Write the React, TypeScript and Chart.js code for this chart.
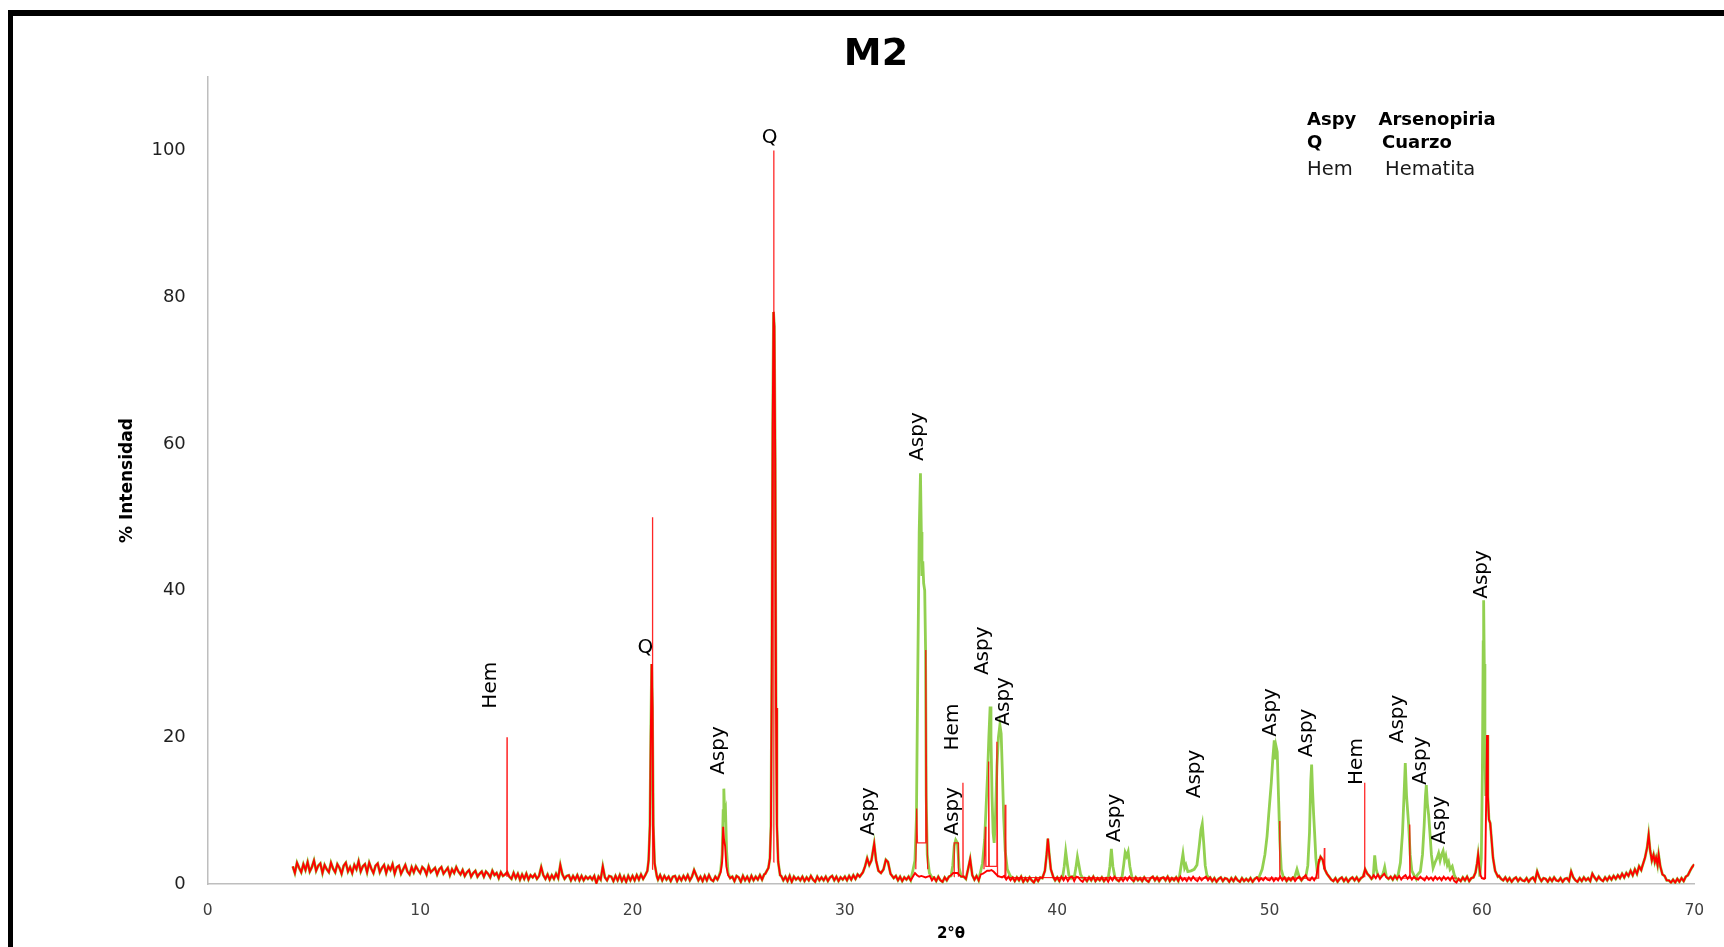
import React, { useEffect, useRef } from "react";
import { Chart, registerables } from "chart.js";

Chart.register(...registerables);

const FONT = "'DejaVu Sans', Verdana, sans-serif";

// ---- axis definition ----
const X_MIN = 0;
const X_MAX = 70;
const X_STEP = 10;
const Y_MIN = 0;
const Y_MAX = 110;
const Y_STEP = 20;

// ---- measured background (2θ from 4.0 to 70.0, one row per degree, 0.1° apart) ----
const GRID_START = 4.0;
const GRID_STEP = 0.1;
const backgroundRows: number[][] = [
  [2.4, 1.5, 2.9, 2.2, 1.6, 2.7, 1.9, 3.0, 1.7, 2.3], // 4
  [3.2, 1.8, 2.5, 2.8, 1.5, 2.6, 2.0, 1.6, 2.9, 2.1], // 5
  [1.6, 2.7, 2.2, 1.4, 2.5, 2.9, 1.7, 2.3, 1.5, 2.6], // 6
  [2.0, 3.1, 1.7, 2.4, 2.7, 1.6, 2.9, 2.1, 1.5, 2.5], // 7
  [2.8, 1.6, 2.2, 2.6, 1.5, 2.4, 1.9, 2.7, 1.4, 2.3], // 8
  [2.5, 1.4, 2.0, 2.6, 1.7, 1.3, 2.3, 1.6, 2.4, 1.9], // 9
  [1.5, 2.3, 2.0, 1.3, 2.4, 1.6, 1.9, 2.2, 1.3, 2.0], // 10
  [2.3, 1.4, 1.8, 2.2, 1.2, 2.0, 1.5, 2.3, 1.7, 1.3], // 11
  [1.9, 1.1, 1.6, 1.9, 1.0, 1.5, 1.8, 1.0, 1.4, 1.7], // 12
  [1.0, 1.7, 1.4, 0.9, 1.8, 1.2, 1.5, 0.8, 1.6, 1.1], // 13
  [1.3, 1.6, 1.0, 0.7, 1.5, 0.8, 1.4, 0.6, 1.3, 0.7], // 14
  [1.4, 0.6, 1.2, 0.9, 1.3, 0.7, 1.1, 2.3, 1.2, 0.7], // 15
  [1.3, 0.6, 1.2, 0.7, 1.4, 0.8, 2.6, 1.3, 0.7, 1.1], // 16
  [1.2, 0.5, 1.1, 0.6, 1.2, 0.5, 1.1, 0.5, 1.0, 0.7], // 17
  [1.0, 0.6, 1.1, 0.1, 1.0, 0.6, 2.4, 0.9, 0.5, 1.1], // 18
  [1.0, 0.4, 1.1, 0.5, 1.2, 0.4, 1.0, 0.3, 1.1, 0.5], // 19
  [1.1, 0.5, 1.2, 0.6, 1.3, 0.7, 1.4, 1.6, 3.3, 3.0], // 20
  [2.0, 1.1, 0.6, 1.2, 0.5, 1.1, 0.6, 1.0, 0.4, 1.0], // 21
  [1.1, 0.4, 1.0, 0.5, 1.1, 0.6, 1.2, 0.5, 1.0, 1.9], // 22
  [1.2, 0.5, 1.0, 0.4, 1.1, 0.5, 1.2, 0.6, 0.4, 1.0], // 23
  [0.6, 1.1, 1.2, 1.5, 1.4, 1.2, 0.9, 1.0, 0.4, 1.1], // 24
  [0.9, 0.3, 1.1, 0.5, 1.0, 0.4, 1.1, 0.5, 1.0, 0.6], // 25
  [1.2, 0.6, 1.3, 1.0, 1.6, 2.0, 2.5, 2.0, 1.4, 1.0], // 26
  [1.1, 0.5, 1.0, 0.4, 1.1, 0.3, 1.0, 0.6, 0.9, 0.5], // 27
  [1.0, 0.4, 0.9, 0.5, 1.1, 0.6, 0.3, 1.0, 0.5, 0.9], // 28
  [0.5, 1.0, 0.4, 0.9, 1.1, 0.5, 1.0, 0.4, 0.9, 0.6], // 29
  [1.0, 0.5, 1.1, 0.6, 1.2, 0.7, 1.3, 0.8, 1.3, 1.0], // 30
  [1.5, 2.8, 1.5, 2.5, 4.0, 2.0, 1.5, 1.4, 1.8, 2.2], // 31
  [2.5, 1.5, 1.0, 0.6, 1.1, 0.5, 1.0, 0.4, 0.9, 0.6], // 32
  [1.0, 0.5, 1.0, 1.5, 1.2, 1.0, 1.1, 1.0, 0.9, 1.0], // 33
  [1.1, 0.5, 0.9, 0.4, 1.0, 0.5, 0.3, 0.9, 0.5, 1.0], // 34
  [1.2, 1.5, 1.5, 1.5, 1.2, 1.0, 1.0, 0.7, 2.0, 3.4], // 35
  [1.2, 0.6, 1.1, 0.5, 1.3, 1.4, 1.6, 1.8, 1.8, 1.9], // 36
  [1.7, 1.4, 1.1, 1.0, 0.9, 1.1, 0.6, 1.0, 0.5, 0.9], // 37
  [0.4, 0.9, 0.5, 1.0, 0.3, 0.8, 0.4, 0.9, 0.5, 0.2], // 38
  [0.8, 0.4, 0.9, 0.5, 1.0, 2.5, 6.2, 2.0, 0.9, 0.5], // 39
  [0.9, 0.4, 1.0, 0.5, 1.0, 0.4, 0.9, 1.0, 0.4, 1.0], // 40
  [0.9, 0.5, 0.3, 0.8, 0.4, 0.9, 0.5, 1.0, 0.4, 0.8], // 41
  [0.5, 0.9, 0.4, 0.8, 0.3, 0.9, 0.5, 1.0, 0.6, 0.4], // 42
  [0.8, 0.4, 0.9, 0.5, 1.0, 0.6, 0.4, 0.9, 0.5, 0.8], // 43
  [0.4, 0.9, 0.5, 0.3, 0.8, 1.0, 0.5, 0.9, 0.4, 0.8], // 44
  [0.9, 0.5, 1.0, 0.4, 0.8, 0.5, 0.9, 0.4, 1.0, 0.5], // 45
  [0.8, 0.4, 0.9, 0.5, 1.0, 0.6, 0.4, 0.9, 0.5, 0.8], // 46
  [1.0, 0.5, 0.9, 0.4, 0.8, 0.3, 0.7, 0.9, 0.4, 0.8], // 47
  [0.7, 0.3, 0.8, 0.4, 0.9, 0.5, 0.3, 0.8, 0.4, 0.7], // 48
  [0.4, 0.8, 0.3, 0.7, 0.9, 0.4, 0.8, 0.5, 0.9, 0.6], // 49
  [0.5, 0.9, 0.4, 0.8, 0.5, 1.0, 0.5, 0.9, 0.4, 0.8], // 50
  [0.5, 0.9, 0.4, 0.8, 1.0, 0.5, 0.9, 1.2, 0.6, 0.5], // 51
  [0.9, 0.5, 1.0, 2.8, 3.7, 3.3, 2.0, 1.4, 1.0, 0.6], // 52
  [0.4, 0.8, 0.3, 0.7, 0.9, 0.4, 0.8, 0.3, 0.7, 0.9], // 53
  [0.5, 0.9, 0.4, 0.8, 1.0, 2.0, 1.4, 1.1, 0.7, 1.2], // 54
  [0.8, 1.3, 0.7, 1.1, 1.4, 0.9, 0.7, 1.0, 0.6, 1.1], // 55
  [0.7, 1.1, 0.6, 1.0, 1.2, 0.7, 1.1, 0.6, 1.0, 0.7], // 56
  [0.6, 1.0, 0.7, 0.5, 1.0, 0.6, 0.9, 0.5, 1.0, 0.6], // 57
  [0.9, 0.5, 1.0, 0.6, 0.9, 0.5, 1.0, 0.4, 0.2, 0.7], // 58
  [0.4, 0.9, 0.5, 1.0, 0.4, 0.8, 0.9, 1.5, 2.5, 1.2], // 59
  [0.8, 0.7, 0.9, 0.8, 0.9, 0.8, 1.5, 1.8, 1.1, 0.7], // 60
  [0.5, 0.9, 0.4, 0.8, 0.3, 0.7, 0.9, 0.4, 0.8, 0.5], // 61
  [0.4, 0.8, 0.3, 0.7, 0.9, 0.4, 1.7, 0.9, 0.4, 0.8], // 62
  [0.7, 0.3, 0.8, 0.4, 0.9, 0.5, 0.4, 0.8, 0.3, 0.7], // 63
  [0.8, 0.4, 1.7, 0.9, 0.5, 0.3, 0.8, 0.4, 0.9, 0.5], // 64
  [0.8, 0.4, 1.4, 0.9, 0.5, 1.0, 0.6, 0.4, 0.9, 0.5], // 65
  [1.0, 0.6, 1.1, 0.7, 1.2, 0.8, 1.4, 0.9, 1.5, 1.1], // 66
  [1.8, 1.2, 2.0, 1.4, 2.4, 1.9, 2.9, 3.5, 6.7, 4.5], // 67
  [3.0, 4.0, 3.0, 4.0, 2.5, 1.6, 1.1, 0.5, 0.5, 0.2], // 68
  [0.6, 0.2, 0.7, 0.3, 0.8, 0.4, 1.0, 1.2, 1.8, 2.3], // 69
];
const backgroundLast = 2.7; // 70.0

// ---- measured peaks that belong to the sample trace (red and green) ----
const quartzPeak21: [number, number][] = [[20.6, 1.2], [20.7, 1.8], [20.76, 3.3], [20.82, 8], [20.86, 20], [20.9, 30], [20.94, 24], [20.98, 8], [21.04, 2.8], [21.15, 1.0]];
const aspySample24: [number, number][] = [[24.05, 0.9], [24.15, 1.6], [24.22, 3.0], [24.27, 7.8], [24.31, 6.0], [24.36, 5.2], [24.42, 2.4], [24.5, 1.2], [24.6, 0.8]];
const quartzPeak27: [number, number][] = [[26.25, 1.4], [26.4, 2.2], [26.47, 3.5], [26.52, 8], [26.56, 30], [26.6, 62], [26.64, 78], [26.68, 76], [26.72, 58], [26.76, 24], [26.8, 8], [26.86, 3], [26.95, 1.2]];
const minorPeaks31: [number, number][] = [[30.7, 1.0], [30.85, 1.6], [30.95, 2.4], [31.05, 3.5], [31.15, 2.6], [31.25, 3.2], [31.38, 5.5], [31.47, 3.2], [31.58, 1.8], [31.7, 1.5], [31.82, 2.0], [31.93, 3.3], [32.03, 3.0], [32.15, 1.4], [32.3, 0.8]];
const hemPeak39: [number, number][] = [[39.3, 0.8], [39.42, 1.8], [39.5, 4.0], [39.56, 6.2], [39.62, 4.2], [39.7, 2.0], [39.82, 0.9]];
const minorPeak59: [number, number][] = [[59.6, 0.9], [59.7, 1.6], [59.77, 2.8], [59.82, 4.0], [59.87, 2.6], [59.93, 1.2]];
const residualPeak60: [number, number][] = [[60.15, 0.8], [60.24, 20.3], [60.28, 12], [60.33, 8.8], [60.39, 8.3], [60.45, 6.2], [60.52, 3.6], [60.62, 1.8], [60.75, 1.0]];
const broadBump68: [number, number][] = [[67.55, 2.4], [67.68, 3.6], [67.78, 5.0], [67.85, 6.7], [67.92, 4.6], [68.0, 3.2], [68.08, 4.0], [68.14, 3.0], [68.2, 3.6], [68.27, 2.6], [68.32, 4.0], [68.4, 2.4], [68.5, 1.3]];

// ---- arsenopyrite (Aspy) peaks, seen in the green trace ----
const aspy24: [number, number][] = [[24.05, 0.9], [24.15, 1.8], [24.22, 4], [24.27, 10], [24.3, 13], [24.34, 9.5], [24.38, 10], [24.43, 4.5], [24.5, 1.5], [24.6, 0.8]];
const aspy33: [number, number][] = [[33.2, 1.8], [33.3, 3.2], [33.37, 9], [33.43, 28], [33.5, 48], [33.56, 56], [33.6, 48], [33.63, 42], [33.67, 44], [33.71, 41], [33.76, 40], [33.8, 32], [33.83, 12], [33.88, 4], [33.98, 1.5], [34.1, 0.9]];
const aspy35: [number, number][] = [[35.0, 1.1], [35.08, 2.5], [35.15, 5.2], [35.22, 6.0], [35.3, 5.6], [35.38, 2.2], [35.48, 1.0]];
const aspy37: [number, number][] = [[36.35, 1.2], [36.48, 2.8], [36.58, 6], [36.65, 10.5], [36.72, 15], [36.78, 20], [36.84, 24.2], [36.88, 20], [36.93, 12], [36.98, 7], [37.03, 5.6], [37.09, 9], [37.16, 16], [37.23, 20], [37.3, 21.7], [37.36, 20.5], [37.42, 15], [37.48, 9], [37.55, 4.5], [37.65, 2], [37.8, 1.0]];
const aspy40: [number, number][] = [[40.25, 0.9], [40.33, 2.4], [40.4, 4.4], [40.47, 2.8], [40.55, 1.2], [40.65, 0.8]];
const aspy41: [number, number][] = [[40.8, 0.9], [40.88, 2.2], [40.95, 3.7], [41.02, 2.6], [41.1, 1.3], [41.2, 0.8]];
const aspy42: [number, number][] = [[42.4, 0.8], [42.48, 2.4], [42.55, 4.8], [42.62, 2.4], [42.72, 0.9]];
const aspy43: [number, number][] = [[43.05, 0.9], [43.13, 2.6], [43.2, 4.3], [43.27, 3.8], [43.34, 4.4], [43.42, 2.4], [43.52, 0.9]];
const aspy46: [number, number][] = [[45.75, 0.9], [45.85, 2.8], [45.92, 4.1], [46.0, 2.2], [46.06, 2.6], [46.15, 1.7], [46.3, 1.8], [46.45, 2.0], [46.58, 2.6], [46.68, 5], [46.77, 7.4], [46.83, 8.2], [46.9, 5.5], [46.97, 2.5], [47.05, 1.2], [47.15, 0.8]];
const aspy50: [number, number][] = [[49.5, 0.9], [49.65, 2], [49.78, 4], [49.88, 6.5], [49.96, 9.5], [50.03, 12], [50.08, 13.8], [50.15, 17], [50.22, 19.6], [50.27, 17], [50.31, 18.7], [50.36, 18], [50.42, 12], [50.48, 6], [50.55, 2], [50.65, 0.9]];
const aspy51: [number, number][] = [[51.18, 0.9], [51.29, 2.0], [51.4, 0.9]];
const aspy52: [number, number][] = [[51.7, 0.9], [51.8, 2.5], [51.88, 7], [51.94, 14], [51.98, 16.3], [52.02, 13], [52.07, 9.7], [52.12, 7], [52.18, 3.5], [52.24, 1.8]];
const aspy55: [number, number][] = [[54.88, 0.9], [54.95, 3.9], [55.02, 2.0], [55.1, 1.2], [55.2, 1.0], [55.3, 1.1], [55.36, 1.6], [55.42, 2.3], [55.5, 1.0]];
const aspy56: [number, number][] = [[56.05, 1.2], [56.16, 2.9], [56.26, 7], [56.33, 12], [56.39, 16.5], [56.45, 12], [56.5, 10], [56.55, 8], [56.62, 4], [56.7, 1.8], [56.8, 1.2]];
const aspy57: [number, number][] = [[56.95, 1.2], [57.1, 1.7], [57.2, 4], [57.28, 8], [57.34, 12], [57.38, 13.5], [57.43, 11], [57.49, 9.4], [57.55, 7], [57.62, 4], [57.7, 2.2], [57.8, 3.0], [57.88, 3.5], [57.96, 4.2], [58.03, 3.2], [58.1, 4.0], [58.17, 4.5], [58.24, 3.2], [58.3, 3.8], [58.37, 2.6], [58.43, 3.0], [58.5, 2.0], [58.6, 2.4], [58.7, 1.2], [58.83, 0.5]];
const aspy60: [number, number][] = [[59.9, 1.0], [59.97, 3.5], [60.02, 15], [60.06, 33], [60.08, 38.7], [60.11, 30], [60.14, 18], [60.18, 12]];

// ---- reference stick pattern (thin red) ----
const stickHem14: [number, number][] = [[14.08, 1.0], [14.09, 20], [14.1, 1.0]];
const stickQ21: [number, number][] = [[20.93, 2], [20.94, 50], [20.95, 2]];
const stickQ27: [number, number][] = [[26.64, 3], [26.65, 100], [26.66, 3]];
const stickAspy33: [number, number][] = [[33.34, 2], [33.38, 10.3], [33.42, 5.6], [33.79, 5.6], [33.81, 31.9], [33.85, 10], [33.9, 2]];
const stickAspy35: [number, number][] = [[35.14, 1], [35.15, 5.6], [35.34, 5.6], [35.35, 1]];
const stickHem35: [number, number][] = [[35.55, 1], [35.56, 13.8], [35.57, 1]];
const stickAspy37: [number, number][] = [[36.55, 2], [36.62, 7.8], [36.64, 2.4], [36.76, 2.4], [36.77, 16.7], [36.8, 2.4], [37.15, 2.4], [37.16, 19.4], [37.19, 1.0], [37.54, 1.0], [37.55, 10.8], [37.58, 0.9], [47.15, 0.8]];
const stickAspy50: [number, number][] = [[49.4, 0.8], [50.46, 0.8], [50.47, 8.6], [50.49, 0.8], [52.29, 0.8], [52.31, 3.4]];
const stickHem52: [number, number][] = [[52.56, 2], [52.58, 4.9], [52.6, 2]];
const stickHem54: [number, number][] = [[54.46, 1], [54.47, 13.8], [54.49, 1]];
const stickAspy56: [number, number][] = [[56.15, 0.8], [56.59, 0.8], [56.6, 8.1], [56.62, 0.8], [58.84, 0.8]];
const stickAspy60: [number, number][] = [[59.95, 0.8], [60.15, 0.8]];

// ---- peak labels: text, 2θ, intensity (label centre), rotated ----
const peakLabels: [string, number, number, boolean][] = [
  ["Hem", 13.31, 27.1, true],
  ["Q", 20.61, 32.2, false],
  ["Aspy", 24.08, 18.2, true],
  ["Q", 26.46, 101.8, false],
  ["Aspy", 31.15, 9.9, true],
  ["Aspy", 33.43, 61.0, true],
  ["Hem", 35.1, 21.4, true],
  ["Aspy", 35.1, 9.9, true],
  ["Aspy", 36.5, 31.8, true],
  ["Aspy", 37.5, 24.9, true],
  ["Aspy", 42.7, 9.0, true],
  ["Aspy", 46.5, 15.0, true],
  ["Aspy", 50.05, 23.4, true],
  ["Aspy", 51.76, 20.6, true],
  ["Hem", 54.12, 16.7, true],
  ["Aspy", 56.03, 22.5, true],
  ["Aspy", 57.12, 16.8, true],
  ["Aspy", 58.02, 8.7, true],
  ["Aspy", 59.97, 42.2, true],
];

// ---- key (abbreviation, name, bold) ----
const keyAbbrev = ["Aspy", "Q", "Hem"];
const keyNames = ["Arsenopiria", "Cuarzo", "Hematita"];
const keyBold = [true, true, false];

const TITLE = "M2";
const X_TITLE = "2°θ";
const Y_TITLE = "% Intensidad";

// ---------- building the datasets ----------
type Pt = { x: number; y: number | null };
const toPt = ([x, y]: [number, number]): Pt => ({ x, y });
const measuredGroups = [quartzPeak21, aspySample24, quartzPeak27, minorPeaks31, hemPeak39, minorPeak59, residualPeak60, broadBump68];
const aspyGroups = [aspy24, aspy33, aspy35, aspy37, aspy40, aspy41, aspy42, aspy43, aspy46, aspy50, aspy51, aspy52, aspy55, aspy56, aspy57, aspy60];
const stickGroups = [stickHem14, stickQ21, stickQ27, stickAspy33, stickAspy35, stickHem35, stickAspy37, stickAspy50, stickHem52, stickHem54, stickAspy56, stickAspy60];

const inside = (x: number, groups: [number, number][][]) =>
  groups.some((g) => x >= g[0][0] && x <= g[g.length - 1][0]);

const backgroundValues = [...backgroundRows.flat(), backgroundLast];
const backgroundPoints: Pt[] = backgroundValues.map((y, i) => ({
  x: Math.round((GRID_START + i * GRID_STEP) * 100) / 100,
  y,
}));

const byX = (a: Pt, b: Pt) => a.x - b.x;

const redTrace: Pt[] = [
  ...backgroundPoints.filter((p) => !inside(p.x, measuredGroups)),
  ...measuredGroups.flat().map(toPt),
].sort(byX);

const greenTrace: Pt[] = [
  ...backgroundPoints.filter((p) => !inside(p.x, measuredGroups) && !inside(p.x, aspyGroups)),
  ...measuredGroups.flat().filter(([x]) => !inside(x, aspyGroups)).map(toPt),
  ...aspyGroups.flat().map(toPt),
].sort(byX);

const stickTrace: Pt[] = [];
stickGroups.forEach((g) => {
  g.forEach((p) => stickTrace.push(toPt(p)));
  stickTrace.push({ x: g[g.length - 1][0] + 0.001, y: null });
});

const textPlugin = {
  id: "xrdText",
  afterDatasetsDraw(chart: any) {
    const { ctx, chartArea } = chart;
    const xs = chart.scales.x;
    const ys = chart.scales.y;
    ctx.save();
    ctx.fillStyle = "#000";

    // peak labels
    ctx.font = `20px ${FONT}`;
    ctx.textAlign = "center";
    ctx.textBaseline = "middle";
    peakLabels.forEach(([t, a, h, rot]) => {
      const px = xs.getPixelForValue(a);
      const py = ys.getPixelForValue(h);
      ctx.save();
      ctx.translate(px, py);
      if (rot) ctx.rotate(-Math.PI / 2);
      ctx.fillText(t, 0, 0);
      ctx.restore();
    });

    // title
    ctx.font = `bold 38px ${FONT}`;
    ctx.textAlign = "center";
    ctx.textBaseline = "alphabetic";
    ctx.fillText(TITLE, 863, 49);

    // axis titles
    ctx.font = `bold 15px ${FONT}`;
    ctx.textBaseline = "middle";
    ctx.fillText(X_TITLE, (chartArea.left + chartArea.right) / 2, 918.5);
    ctx.save();
    ctx.translate(114.5, (chartArea.top + chartArea.bottom) / 2);
    ctx.rotate(-Math.PI / 2);
    ctx.font = `bold 17px ${FONT}`;
    ctx.fillText(Y_TITLE, 0, 0);
    ctx.restore();

    // key
    ctx.textAlign = "left";
    ctx.textBaseline = "alphabetic";
    const nameX = [1365.5, 1369, 1372];
    const rowY = [108.5, 132, 158.5];
    keyAbbrev.forEach((ab, i) => {
      ctx.font = keyBold[i] ? `bold 18px ${FONT}` : `19.5px ${FONT}`;
      ctx.fillStyle = keyBold[i] ? "#000" : "#1a1a1a";
      ctx.fillText(ab, 1294, rowY[i]);
      ctx.fillText(keyNames[i], nameX[i], rowY[i]);
    });
    ctx.restore();
  },
};

export default function App() {
  const canvasRef = useRef<HTMLCanvasElement | null>(null);

  useEffect(() => {
    if (!canvasRef.current) return;
    const chart = new Chart(canvasRef.current, {
      type: "line",
      data: {
        datasets: [
          {
            label: "Referencia",
            data: stickTrace,
            borderColor: "rgba(255,0,0,0.85)",
            borderWidth: 1.3,
            pointRadius: 0,
            spanGaps: false,
            order: 0,
          },
          {
            label: "M2",
            data: redTrace,
            borderColor: "#FF0000",
            borderWidth: 1.9,
            pointRadius: 0,
            order: 1,
          },
          {
            label: "Aspy",
            data: greenTrace,
            borderColor: "#92D050",
            borderWidth: 2.8,
            pointRadius: 0,
            order: 2,
          },
        ],
      },
      options: {
        animation: false,
        responsive: false,
        maintainAspectRatio: false,
        layout: { padding: { top: 61.2, right: 29.7, bottom: 0, left: 0 } },
        elements: { line: { tension: 0 }, point: { radius: 0 } },
        plugins: {
          legend: { display: false },
          tooltip: { enabled: false },
          title: { display: false },
        },
        scales: {
          x: {
            type: "linear",
            min: X_MIN,
            max: X_MAX,
            grid: { display: false, drawTicks: false },
            border: { display: true, color: "#BEBEBE", width: 1.5 },
            ticks: {
              stepSize: X_STEP,
              includeBounds: false,
              padding: 18,
              color: "#404040",
              maxRotation: 0,
              font: { family: FONT, size: 15.5 },
            },
            afterFit: (s: any) => {
              s.height = 63;
            },
          },
          y: {
            type: "linear",
            min: Y_MIN,
            max: Y_MAX,
            grid: { display: false, drawTicks: false },
            border: { display: true, color: "#BEBEBE", width: 1.5 },
            ticks: {
              stepSize: Y_STEP,
              includeBounds: false,
              padding: 22,
              color: "#1f1f1f",
              font: { family: FONT, size: 18 },
            },
            afterFit: (s: any) => {
              s.width = 194.8;
            },
          },
        },
      },
      plugins: [textPlugin],
    });
    return () => chart.destroy();
  }, []);

  return (
    <div
      style={{
        position: "fixed",
        left: 8,
        top: 10,
        width: 1716,
        height: 937,
        boxSizing: "border-box",
        borderTop: "6px solid #000",
        borderLeft: "5px solid #000",
        background: "#fff",
        overflow: "hidden",
      }}
    >
      <canvas ref={canvasRef} width={1711} height={931} style={{ display: "block" }} />
    </div>
  );
}
